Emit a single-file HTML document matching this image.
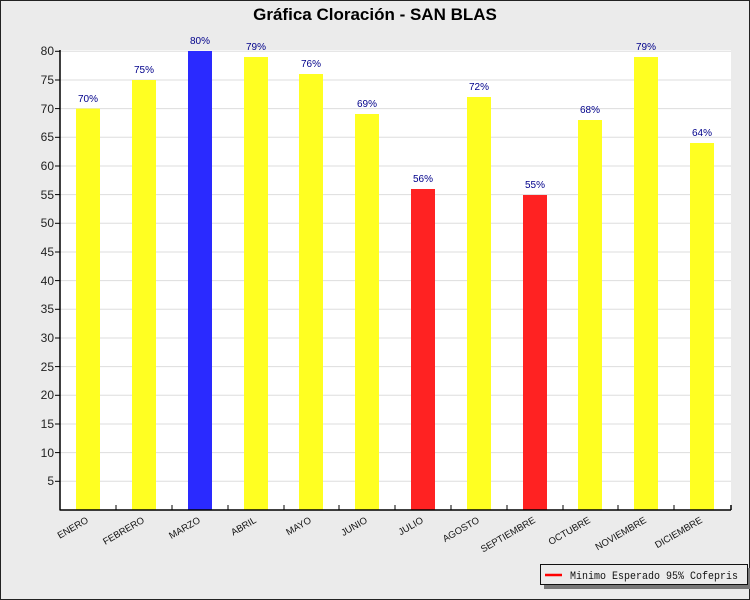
<!DOCTYPE html>
<html><head><style>
body{margin:0;background:#eaeaea}
</style></head><body>
<svg width="750" height="600" xmlns="http://www.w3.org/2000/svg" style="display:block">
<rect x="0.5" y="0.5" width="749" height="599" fill="#ebebeb" stroke="#222"/>
<text x="375" y="20" text-anchor="middle" font-family="Liberation Sans" font-weight="bold" font-size="17">Gráfica Cloración - SAN BLAS</text>
<rect x="60" y="50" width="671" height="460" fill="#fff"/>
<g stroke="#ddd" stroke-width="1">
<line x1="60" x2="731" y1="481.3" y2="481.3"/><line x1="60" x2="731" y1="452.6" y2="452.6"/><line x1="60" x2="731" y1="424" y2="424"/><line x1="60" x2="731" y1="395.3" y2="395.3"/><line x1="60" x2="731" y1="366.6" y2="366.6"/><line x1="60" x2="731" y1="338" y2="338"/><line x1="60" x2="731" y1="309.3" y2="309.3"/><line x1="60" x2="731" y1="280.6" y2="280.6"/><line x1="60" x2="731" y1="252" y2="252"/><line x1="60" x2="731" y1="223.3" y2="223.3"/><line x1="60" x2="731" y1="194.6" y2="194.6"/><line x1="60" x2="731" y1="166" y2="166"/><line x1="60" x2="731" y1="137.3" y2="137.3"/><line x1="60" x2="731" y1="108.6" y2="108.6"/><line x1="60" x2="731" y1="80" y2="80"/><line x1="60" x2="731" y1="51.3" y2="51.3"/>
</g>
<g font-family="Liberation Sans" font-size="12" text-anchor="end" fill="#222">
<text x="54" y="485">5</text><text x="54" y="457">10</text><text x="54" y="428">15</text><text x="54" y="399">20</text><text x="54" y="371">25</text><text x="54" y="342">30</text><text x="54" y="313">35</text><text x="54" y="285">40</text><text x="54" y="256">45</text><text x="54" y="227">50</text><text x="54" y="199">55</text><text x="54" y="170">60</text><text x="54" y="141">65</text><text x="54" y="113">70</text><text x="54" y="84">75</text><text x="54" y="55">80</text>
</g>
<g id="bars" font-family="Liberation Sans" font-size="10" fill="#00008b" text-anchor="middle">
<rect x="76" y="108.6" width="24" height="401.4" fill="#ffff22"/><text x="88" y="102">70%</text>
<rect x="132" y="80" width="24" height="430" fill="#ffff22"/><text x="144" y="73">75%</text>
<rect x="188" y="51" width="24" height="459" fill="#2a2aff"/><text x="200" y="44">80%</text>
<rect x="244" y="57" width="24" height="453" fill="#ffff22"/><text x="256" y="50">79%</text>
<rect x="299" y="74" width="24" height="436" fill="#ffff22"/><text x="311" y="67">76%</text>
<rect x="355" y="114" width="24" height="396" fill="#ffff22"/><text x="367" y="107">69%</text>
<rect x="411" y="189" width="24" height="321" fill="#ff2222"/><text x="423" y="182">56%</text>
<rect x="467" y="97" width="24" height="413" fill="#ffff22"/><text x="479" y="90">72%</text>
<rect x="523" y="195" width="24" height="315" fill="#ff2222"/><text x="535" y="188">55%</text>
<rect x="578" y="120" width="24" height="390" fill="#ffff22"/><text x="590" y="113">68%</text>
<rect x="634" y="57" width="24" height="453" fill="#ffff22"/><text x="646" y="50">79%</text>
<rect x="690" y="143" width="24" height="367" fill="#ffff22"/><text x="702" y="136">64%</text>
</g>
<g stroke="#000" stroke-width="1.5">
<line x1="60" y1="50" x2="60" y2="510.5"/><line x1="60" y1="510" x2="731" y2="510"/>
<line x1="731" y1="505" x2="731" y2="510"/>
</g>
<g stroke="#000" stroke-width="1">
<line x1="55" x2="60" y1="481.3" y2="481.3"/><line x1="55" x2="60" y1="452.6" y2="452.6"/><line x1="55" x2="60" y1="424" y2="424"/><line x1="55" x2="60" y1="395.3" y2="395.3"/><line x1="55" x2="60" y1="366.6" y2="366.6"/><line x1="55" x2="60" y1="338" y2="338"/><line x1="55" x2="60" y1="309.3" y2="309.3"/><line x1="55" x2="60" y1="280.6" y2="280.6"/><line x1="55" x2="60" y1="252" y2="252"/><line x1="55" x2="60" y1="223.3" y2="223.3"/><line x1="55" x2="60" y1="194.6" y2="194.6"/><line x1="55" x2="60" y1="166" y2="166"/><line x1="55" x2="60" y1="137.3" y2="137.3"/><line x1="55" x2="60" y1="108.6" y2="108.6"/><line x1="55" x2="60" y1="80" y2="80"/><line x1="55" x2="60" y1="51.3" y2="51.3"/>
<line x1="116" x2="116" y1="505" y2="510"/><line x1="172" x2="172" y1="505" y2="510"/><line x1="228" x2="228" y1="505" y2="510"/><line x1="284" x2="284" y1="505" y2="510"/><line x1="339" x2="339" y1="505" y2="510"/><line x1="395" x2="395" y1="505" y2="510"/><line x1="451" x2="451" y1="505" y2="510"/><line x1="507" x2="507" y1="505" y2="510"/><line x1="563" x2="563" y1="505" y2="510"/><line x1="618" x2="618" y1="505" y2="510"/><line x1="674" x2="674" y1="505" y2="510"/>
</g>
<g font-family="Liberation Sans" font-size="9.5" text-anchor="end" fill="#111">
<text transform="translate(89,522) rotate(-30)">ENERO</text>
<text transform="translate(145,522) rotate(-30)">FEBRERO</text>
<text transform="translate(201,522) rotate(-30)">MARZO</text>
<text transform="translate(257,522) rotate(-30)">ABRIL</text>
<text transform="translate(312,522) rotate(-30)">MAYO</text>
<text transform="translate(368,522) rotate(-30)">JUNIO</text>
<text transform="translate(424,522) rotate(-30)">JULIO</text>
<text transform="translate(480,522) rotate(-30)">AGOSTO</text>
<text transform="translate(536,522) rotate(-30)">SEPTIEMBRE</text>
<text transform="translate(591,522) rotate(-30)">OCTUBRE</text>
<text transform="translate(647,522) rotate(-30)">NOVIEMBRE</text>
<text transform="translate(703,522) rotate(-30)">DICIEMBRE</text>
</g>
<rect x="544" y="568" width="206" height="21" fill="#777"/>
<rect x="540.5" y="564.5" width="207" height="20" fill="#ebebeb" stroke="#111"/>
<line x1="545" x2="562" y1="575" y2="575" stroke="#ff0000" stroke-width="2.5"/>
<text x="570" y="579" font-family="Liberation Mono" font-size="11" fill="#111" textLength="168" lengthAdjust="spacingAndGlyphs">Minimo Esperado 95% Cofepris</text>
</svg>
</body></html>
